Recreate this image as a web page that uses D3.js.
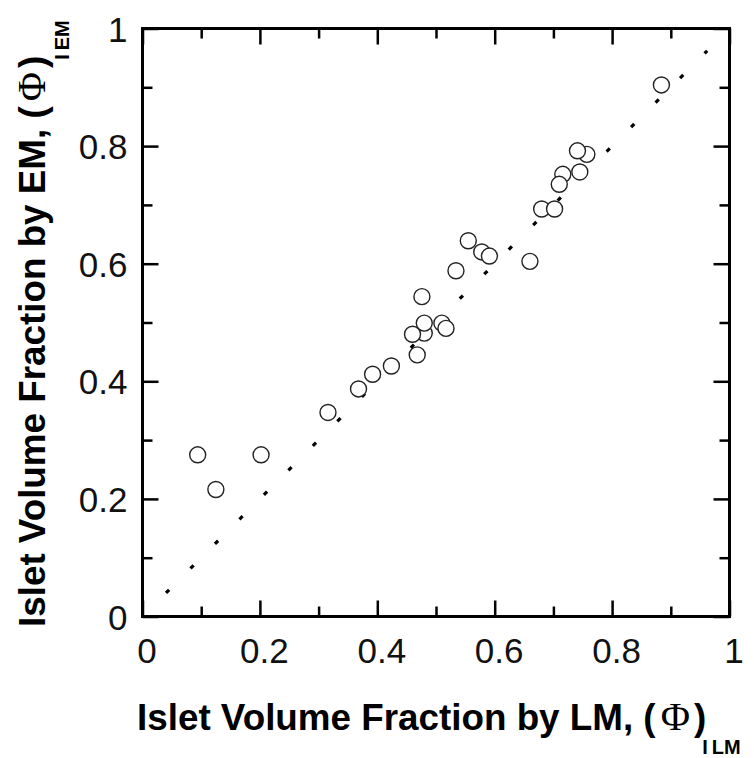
<!DOCTYPE html>
<html>
<head>
<meta charset="utf-8">
<script src="https://cdn.jsdelivr.net/npm/d3@7"></script>
<style>
  body { margin: 0; background: #fff; }
  svg { display: block; }
</style>
</head>
<body>
<svg id="chart" width="754" height="758"></svg>
<script>
// Islet volume fraction, LM (x) vs EM (y); listed in drawing order
const lmValues = [0.094, 0.125, 0.202, 0.316, 0.368, 0.392, 0.424, 0.468, 0.480, 0.460, 0.480,
                  0.510, 0.517, 0.476, 0.534, 0.555, 0.578, 0.591, 0.660, 0.680, 0.702,
                  0.716, 0.710, 0.745, 0.757, 0.741, 0.884];
const emValues = [0.275, 0.216, 0.275, 0.347, 0.387, 0.412, 0.426, 0.445, 0.482, 0.480, 0.499,
                  0.499, 0.490, 0.544, 0.588, 0.639, 0.620, 0.613, 0.604, 0.693, 0.693,
                  0.752, 0.735, 0.756, 0.786, 0.792, 0.904];
const identityLine = [0.04, 0.962];
const majorTicks = [0, 0.2, 0.4, 0.6, 0.8, 1];
const minorTicks = [0.1, 0.3, 0.5, 0.7, 0.9];
const tickLabels = ['0', '0.2', '0.4', '0.6', '0.8', '1'];

const svg = d3.select('#chart');
const plotLeft = 142.5, plotRight = 729.5, plotTop = 28.5, plotBottom = 616.5;

const x = d3.scaleLinear().domain([0, 1]).range([plotLeft, plotRight]);
const y = d3.scaleLinear().domain([0, 1]).range([plotBottom, plotTop]);

const points = lmValues.map((v, i) => ({ lm: v, em: emValues[i] }));

// dotted y = x line
svg.append('line')
    .attr('x1', x(identityLine[0])).attr('y1', y(identityLine[0]))
    .attr('x2', x(identityLine[1])).attr('y2', y(identityLine[1]))
    .attr('stroke', '#000')
    .attr('stroke-width', 3.2)
    .attr('stroke-dasharray', '4.5,30.15');

// open circles
svg.append('g')
    .selectAll('circle')
    .data(points)
    .join('circle')
    .attr('cx', d => x(d.lm))
    .attr('cy', d => y(d.em))
    .attr('r', 8)
    .attr('fill', '#fff')
    .attr('stroke', '#222')
    .attr('stroke-width', 1.4);

// axes, ticks pointing inward on all four sides
function styleAxis(g) {
    g.select('.domain').remove();
    g.selectAll('.tick line').attr('stroke', '#000').attr('stroke-width', 2.5);
}
const fmt = d => tickLabels[majorTicks.indexOf(d)];

const axes = [
    { make: d3.axisBottom(x), at: `translate(0,${plotBottom})` },
    { make: d3.axisTop(x), at: `translate(0,${plotTop})` },
    { make: d3.axisLeft(y), at: `translate(${plotLeft},0)` },
    { make: d3.axisRight(y), at: `translate(${plotRight},0)` }
];
const axisGroups = axes.map((a, i) =>
    svg.append('g').attr('transform', a.at)
        .call(a.make.tickValues(majorTicks).tickSizeInner(-16).tickSizeOuter(0)
            .tickFormat(i === 0 || i === 2 ? fmt : ''))
        .call(styleAxis));
const minorAxes = [d3.axisBottom(x), d3.axisTop(x), d3.axisLeft(y), d3.axisRight(y)];
minorAxes.forEach((ax, i) => {
    svg.append('g').attr('transform', axes[i].at)
        .call(ax.tickValues(minorTicks).tickSizeInner(-10).tickSizeOuter(0).tickFormat(''))
        .call(styleAxis);
});

// frame
svg.append('rect')
    .attr('x', plotLeft).attr('y', plotTop)
    .attr('width', plotRight - plotLeft).attr('height', plotBottom - plotTop)
    .attr('fill', 'none')
    .attr('stroke', '#000')
    .attr('stroke-width', 3);

// tick label styling
svg.selectAll('.tick text')
    .attr('font-family', '"Liberation Sans", Arial, sans-serif')
    .attr('font-size', 35)
    .attr('fill', '#111');
axisGroups[0].selectAll('.tick text')
    .attr('y', 0).attr('dy', null).attr('transform', 'translate(4,46)');
axisGroups[2].selectAll('.tick text')
    .attr('x', -15).attr('dy', '0.36em');

// axis titles
function axisTitle(sel, method) {
    sel.attr('font-family', '"Liberation Sans", Arial, sans-serif')
        .attr('font-weight', 'bold')
        .attr('font-size', 36.8)
        .attr('fill', '#000');
    sel.append('tspan').text(`Islet Volume Fraction by ${method}, (`);
    sel.append('tspan')
        .attr('font-family', '"Liberation Serif", "DejaVu Serif", serif')
        .attr('font-weight', 'normal')
        .attr('font-size', 40)
        .attr('dx', 5)
        .text('\u03A6');
    sel.append('tspan').attr('dx', 4).text(')');
    sel.append('tspan').attr('font-size', 20).attr('dx', -4).attr('dy', 24).text('I');
    sel.append('tspan').attr('font-size', 20).attr('dx', 4).text(method);
}

svg.append('text')
    .attr('x', 137)
    .attr('y', 730)
    .call(axisTitle, 'LM');

svg.append('text')
    .attr('transform', 'translate(45,627) rotate(-90)')
    .call(axisTitle, 'EM');
</script>
</body>
</html>
